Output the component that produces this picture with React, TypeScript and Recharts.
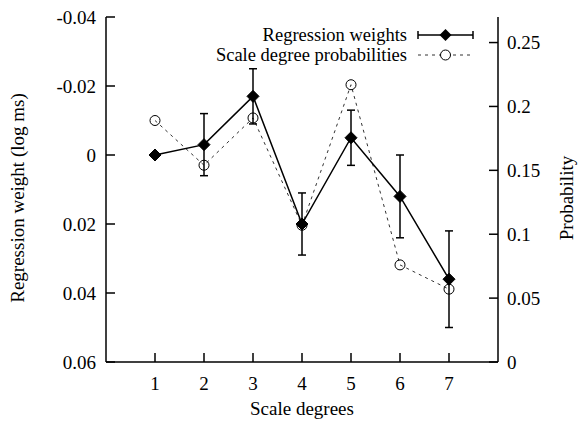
import React from 'react';
import { ComposedChart, Line, XAxis, YAxis, ErrorBar, Legend, Label } from 'recharts';

const degrees = [1, 2, 3, 4, 5, 6, 7];
const weights = [0, -0.003, -0.017, 0.02, -0.005, 0.012, 0.036];
const weightErr = [0, 0.009, 0.008, 0.009, 0.008, 0.012, 0.014];
const probs = [0.189, 0.154, 0.191, 0.107, 0.217, 0.076, 0.057];

const xTicks = [1, 2, 3, 4, 5, 6, 7];
const leftTicks = [-0.04, -0.02, 0, 0.02, 0.04, 0.06];
const rightTicks = [0, 0.05, 0.1, 0.15, 0.2, 0.25];

const data = degrees.map((d, i) => ({ x: d, w: weights[i], err: weightErr[i], p: probs[i] }));

const FONT = 'Liberation Serif, Times New Roman, serif';
const FS = 19;
const tickStyle = { fill: '#000', fontSize: FS, fontFamily: FONT };

const Diamond = (props: any) => {
  const { cx, cy, index } = props;
  if (cx == null || cy == null) return <g key={`d${index}`} />;
  const s = 6;
  return (
    <polygon
      key={`d${index}`}
      points={`${cx},${cy - s} ${cx + s},${cy} ${cx},${cy + s} ${cx - s},${cy}`}
      fill="#000"
      stroke="#000"
      strokeWidth={1}
    />
  );
};

const Ring = (props: any) => {
  const { cx, cy, index } = props;
  if (cx == null || cy == null) return <g key={`c${index}`} />;
  return <circle key={`c${index}`} cx={cx} cy={cy} r={5} fill="none" stroke="#000" strokeWidth={1} />;
};

const renderLegend = () => (
  <svg width={290} height={42} style={{ overflow: 'visible', display: 'block' }}>
    <text x={199} y={9} dy="0.35em" textAnchor="end" fontFamily={FONT} fontSize={18.5} fill="#000">
      Regression weights
    </text>
    <line x1={210} y1={9} x2={265} y2={9} stroke="#000" strokeWidth={1.5} />
    <line x1={210} y1={5} x2={210} y2={13} stroke="#000" strokeWidth={1.5} />
    <line x1={265} y1={5} x2={265} y2={13} stroke="#000" strokeWidth={1.5} />
    <polygon points="237.5,3 243.5,9 237.5,15 231.5,9" fill="#000" />
    <text x={199} y={29} dy="0.35em" textAnchor="end" fontFamily={FONT} fontSize={18.5} fill="#000">
      Scale degree probabilities
    </text>
    <line x1={210} y1={29} x2={265} y2={29} stroke="#333" strokeWidth={1} strokeDasharray="3 4" />
    <circle cx={237.5} cy={29} r={5} fill="#fff" stroke="#000" strokeWidth={1} />
  </svg>
);

export default function App() {
  return (
    <ComposedChart
      width={578}
      height={414}
      data={data}
      margin={{ top: 9, right: 0, bottom: 0, left: 0 }}
    >
      <XAxis
        xAxisId="b"
        dataKey="x"
        type="number"
        domain={[0, 8]}
        ticks={xTicks}
        orientation="bottom"
        height={60}
        stroke="#000"
        strokeWidth={1.5}
        tickSize={-9}
        tickMargin={23.5}
        tick={tickStyle}
        tickLine={{ stroke: '#000', strokeWidth: 1.5 }}
        allowDecimals={false}
        interval={0}
      >
        <Label
          content={(p: any) => {
            const vb = p.viewBox;
            return (
              <text x={vb.x + vb.width / 2} y={406.5} textAnchor="middle" fontFamily={FONT} fontSize={FS} fill="#000">
                Scale degrees
              </text>
            );
          }}
        />
      </XAxis>
      <XAxis
        xAxisId="t"
        dataKey="x"
        type="number"
        domain={[0, 8]}
        orientation="top"
        height={0}
        tick={false}
        tickLine={false}
        stroke="#000"
        strokeWidth={1.5}
      />
      <YAxis
        yAxisId="w"
        type="number"
        domain={[-0.04, 0.06]}
        reversed
        ticks={leftTicks}
        width={98}
        stroke="#000"
        strokeWidth={1.5}
        tickSize={-9}
        tickMargin={19}
        tick={tickStyle}
        tickLine={{ stroke: '#000', strokeWidth: 1.5 }}
        interval={0}
      >
        <Label
          content={() => {
            const cx = 16;
            const cy = 190;
            return (
              <text x={cx} y={cy} textAnchor="middle" transform={`rotate(-90 ${cx} ${cy})`} fontFamily={FONT} fontSize={FS} fill="#000">
                Regression weight (log ms)
              </text>
            );
          }}
        />
      </YAxis>
      <YAxis
        yAxisId="p"
        type="number"
        orientation="right"
        domain={[0, 0.27]}
        ticks={rightTicks}
        width={88}
        stroke="#000"
        strokeWidth={1.5}
        tickSize={-9}
        tickMargin={18}
        tick={tickStyle}
        tickLine={{ stroke: '#000', strokeWidth: 1.5 }}
        interval={0}
      >
        <Label
          content={() => {
            const cx = 565;
            const cy = 190;
            return (
              <text x={cx} y={cy} textAnchor="middle" transform={`rotate(-90 ${cx} ${cy})`} fontFamily={FONT} fontSize={FS} fill="#000">
                Probability
              </text>
            );
          }}
        />
      </YAxis>
      <Legend
        layout="horizontal"
        verticalAlign="middle"
        align="center"
        content={renderLegend}
        wrapperStyle={{ left: 200, top: 18, width: 290, height: 42 }}
      />
      <Line
        xAxisId="b"
        yAxisId="p"
        dataKey="p"
        stroke="#333"
        strokeWidth={1}
        strokeDasharray="3 4"
        dot={Ring}
        activeDot={false}
        isAnimationActive={false}
      />
      <Line
        xAxisId="b"
        yAxisId="w"
        dataKey="w"
        stroke="#000"
        strokeWidth={1.5}
        dot={Diamond}
        activeDot={false}
        isAnimationActive={false}
      >
        <ErrorBar dataKey="err" width={4} stroke="#000" strokeWidth={1.5} direction="y" isAnimationActive={false} />
      </Line>
    </ComposedChart>
  );
}
